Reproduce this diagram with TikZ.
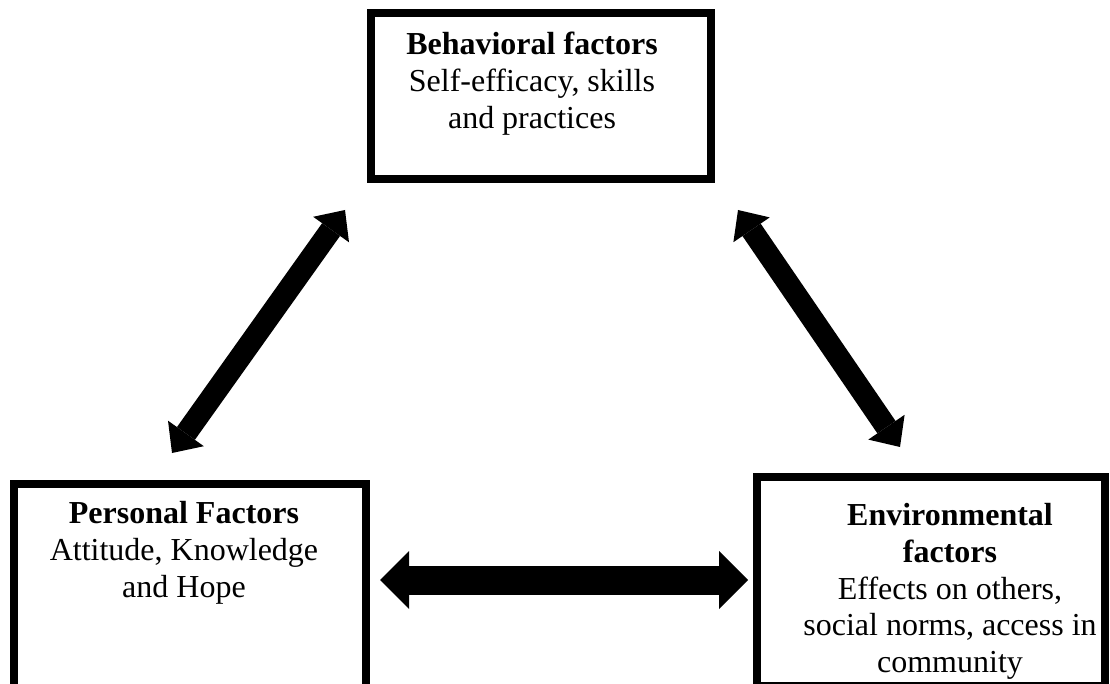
\documentclass[tikz,border=0pt]{standalone}
\usepackage{fontspec}
\setmainfont{Liberation Serif}
\usetikzlibrary{arrows.meta}
\begin{document}
\begin{tikzpicture}[x=1pt,y=-1pt,
  box/.style={draw=black, line width=8pt, rectangle, inner sep=0pt, outer sep=0pt},
  txt/.style={align=center, font=\fontsize{32}{36.8}\selectfont, inner sep=0pt, anchor=north},
  dtip/.style={Triangle[width=44pt,length=24pt,line width=0pt]},
  htip/.style={Triangle[width=58pt,length=29pt,line width=0pt]},
  darrow/.style={line width=22pt, {Triangle[width=44pt,length=24pt,line width=0pt]}-{Triangle[width=44pt,length=24pt,line width=0pt]}},
  harrow/.style={line width=29pt, {Triangle[width=58pt,length=29pt,line width=0pt]}-{Triangle[width=58pt,length=29pt,line width=0pt]}}
]
\useasboundingbox (0,0) rectangle (1110,684);
\clip (0,0) rectangle (1110,684);
\fill[white] (0,0) rectangle (1110,684);
% boxes
\node[box, minimum width=340pt, minimum height=166pt] (beh) at (541,96) {};
\node[box, minimum width=352pt, minimum height=216pt] (per) at (190,592) {};
\node[box, minimum width=348pt, minimum height=209pt] (env) at (931,581.5) {};
% texts
\node[txt] (behT) at (532,32) {\textbf{Behavioral factors}\\Self-efficacy, skills\\and practices};
\node[txt] (perT) at (184,501) {\textbf{Personal Factors}\\Attitude, Knowledge\\and Hope};
\node[txt] (envT) at (950,503) {\textbf{Environmental}\\\textbf{factors}\\Effects on others,\\social norms, access in\hspace*{48pt}\\community};
% arrow ends
\coordinate (pb) at (172,453);
\coordinate (bp) at (345,210);
\coordinate (be) at (738,210);
\coordinate (eb) at (900,447);
\coordinate (pe) at (380,580);
\coordinate (ep) at (748,580);
\draw[darrow] (pb) -- (bp);
\draw[darrow] (be) -- (eb);
\draw[harrow] (pe) -- (ep);
\end{tikzpicture}
\end{document}
